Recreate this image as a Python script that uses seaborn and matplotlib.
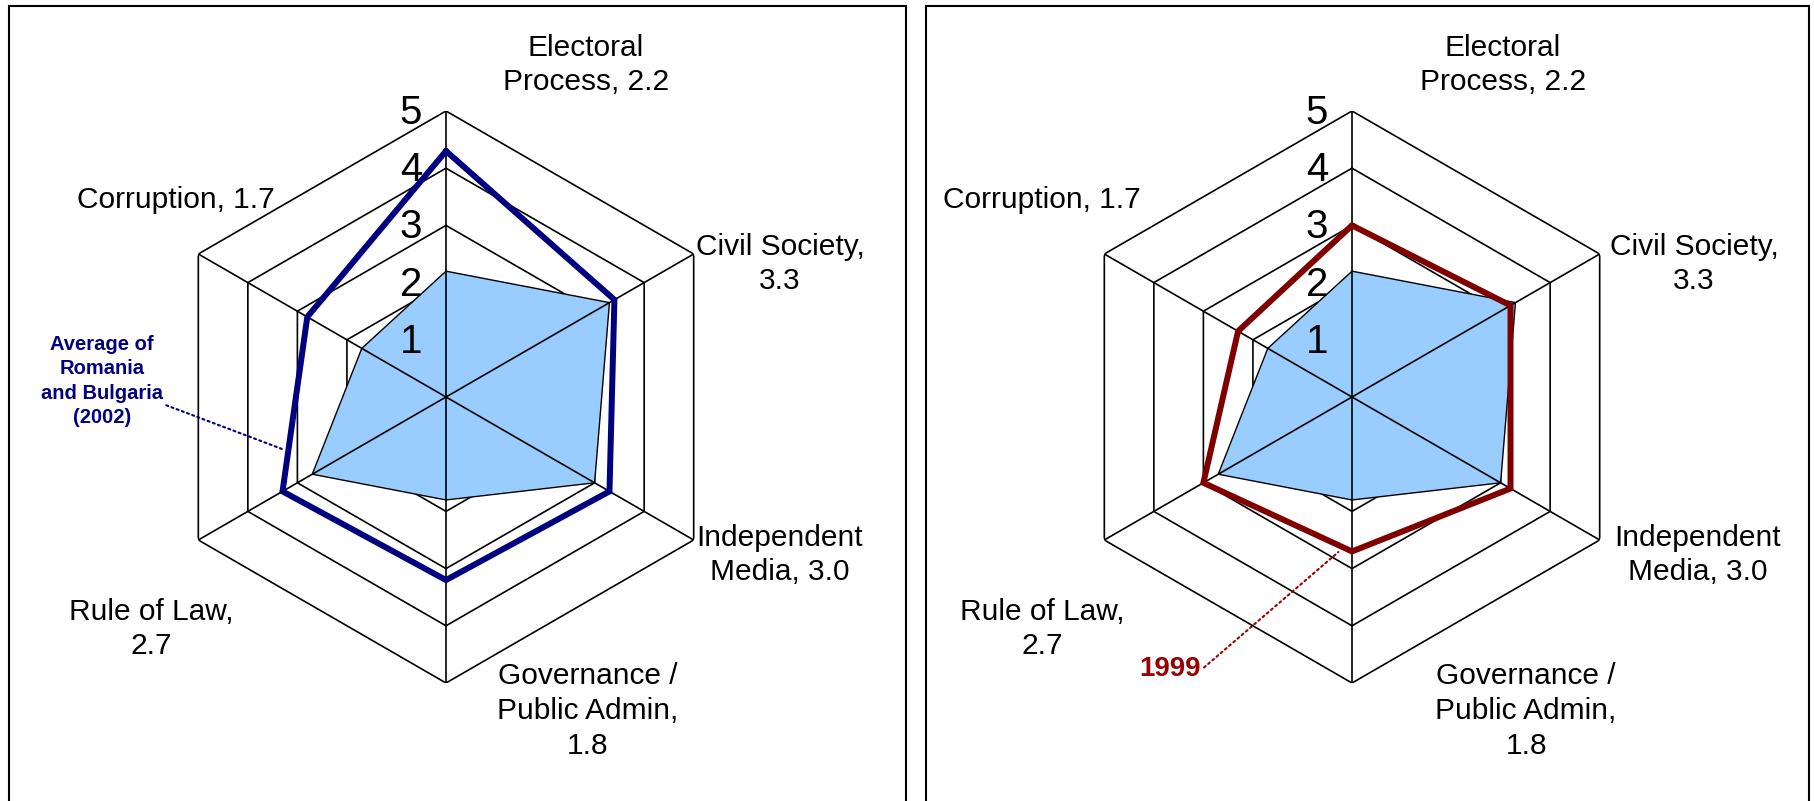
import numpy as np
import seaborn as sns
import matplotlib.pyplot as plt
from matplotlib.patches import Rectangle

# data
labels = ["Electoral\nProcess, 2.2", "Civil Society,\n3.3", "Independent\nMedia, 3.0",
          "Governance /\nPublic Admin,\n1.8", "Rule of Law,\n2.7", "Corruption, 1.7"]
current = [2.2, 3.3, 3.0, 1.8, 2.7, 1.7]
avg_2002 = [4.3, 3.4, 3.3, 3.2, 3.3, 2.8]
year_1999 = [3.0, 3.2, 3.2, 2.7, 3.0, 2.3]
levels = [1, 2, 3, 4, 5]

sns.set_style("white")
plt.rcParams['font.family'] = ['Liberation Sans', 'DejaVu Sans']
plt.rcParams['text.color'] = 'black'

W, H = 1815, 801
R = 286
fig = plt.figure(figsize=(W / 100, H / 100), dpi=100)

theta = np.deg2rad(np.arange(len(labels)) * 60)
theta_c = np.append(theta, theta[0])


def closed(v):
    return np.append(v, v[0])


def radar(cx, cy, label_off, series, color, lw):
    ax = fig.add_axes([(cx - R) / W, (H - cy - R) / H, 2 * R / W, 2 * R / H], projection='polar')
    ax.set_theta_zero_location('N')
    ax.set_theta_direction(-1)
    ax.grid(False)
    ax.spines['polar'].set_visible(False)
    ax.set_facecolor('none')

    # hexagon rings and spokes
    for lvl in levels:
        ax.plot(theta_c, [lvl] * len(theta_c), color='black', lw=1.2, zorder=1)
    for t in theta:
        ax.plot([t, t], [0, levels[-1]], color='black', lw=1.2, zorder=3)

    ax.fill(theta_c, closed(current), facecolor='#99CCFF', edgecolor='black', lw=1.0, zorder=2)
    sns.lineplot(x=theta_c, y=closed(series), sort=False, estimator=None, ax=ax,
                 color=color, linewidth=lw, zorder=4, solid_joinstyle='miter')

    ax.set_ylim(0, levels[-1])
    ax.set_xticks([])
    ax.set_yticks([])
    ax.set_xlabel('')
    ax.set_ylabel('')

    for lvl in levels:
        ax.annotate(str(lvl), xy=(0, lvl), xycoords='data', xytext=(-35, -2),
                    textcoords='offset pixels', ha='center', va='center', fontsize=29, zorder=5)

    for lab, (dx, dy) in zip(labels, label_off):
        ax.annotate(lab, xy=(0.5, 0.5), xycoords='axes fraction', xytext=(dx, -dy),
                    textcoords='offset pixels', ha='center', va='center',
                    fontsize=21.5, linespacing=1.3, annotation_clip=False)
    return ax


left_off = [(140, -332), (334, -133), (334, 158), (142, 314), (-295, 232), (-270, -197)]
right_off = [(151, -332), (342, -133), (346, 158), (174, 314), (-310, 232), (-310, -197)]

ax1 = radar(446, 397, left_off, avg_2002, '#000080', 4.3)
ax2 = radar(1352, 397, right_off, year_1999, '#800000', 4.3)

ax1.annotate("Average of\nRomania\nand Bulgaria\n(2002)", xy=(np.deg2rad(252), 2.98), xycoords='data',
             xytext=(102, H - 381), textcoords='figure pixels', ha='center', va='center',
             fontsize=14.5, fontweight='bold', color='#000080', linespacing=1.35,
             arrowprops=dict(arrowstyle='-', linestyle=':', color='#000080', lw=1.5,
                             shrinkA=0, shrinkB=0))
ax2.annotate("1999", xy=(np.deg2rad(185), 2.72), xycoords='data',
             xytext=(1170, H - 669), textcoords='figure pixels', ha='center', va='center',
             fontsize=20, fontweight='bold', color='#990000',
             arrowprops=dict(arrowstyle='-', linestyle=':', color='#990000', lw=1.5,
                             shrinkA=0, shrinkB=0, relpos=(1.0, 0.45)))

# panel frames
for x0, x1 in [(9, 906), (926, 1809)]:
    fig.add_artist(Rectangle((x0 / W, -0.1), (x1 - x0) / W, 1.1 - 6 / H, transform=fig.transFigure,
                             fill=False, edgecolor='black', lw=1.5))

plt.savefig("out.png", dpi=100)
